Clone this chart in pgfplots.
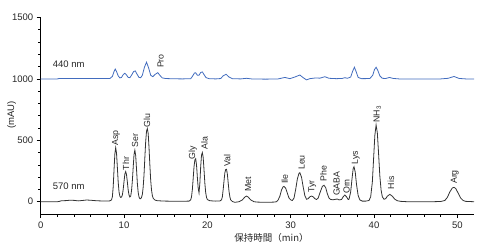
\documentclass[border=0pt]{standalone}
\usepackage{fontspec}
\setmainfont{Liberation Sans}
\newfontfamily\cjk{Noto Sans CJK JP}
\usepackage{pgfplots}
\pgfplotsset{compat=1.18}
\definecolor{trblue}{RGB}{66,108,190}
\definecolor{trdark}{RGB}{50,50,50}
\tikzset{lab/.style={rotate=90, anchor=west, inner sep=0pt, font=\fontsize{8.8}{9}\selectfont, text=black!85}}
\begin{document}
\begin{tikzpicture}
\begin{axis}[
  scale only axis, width=433.3pt, height=196.5pt,
  xmin=0, xmax=52, ymin=-100, ymax=1500,
  axis x line*=bottom, axis y line*=left,
  xtick={0,10,...,50}, ytick={0,500,1000,1500},
  minor x tick num=4, minor y tick num=4,
  tick align=outside, major tick length=4pt, minor tick length=2.5pt,
  tick style={black, line width=0.6pt},
  axis line style={line width=0.6pt},
  ticklabel style={font=\fontsize{9.5}{10}\selectfont, text=black!85},
  /pgf/number format/assume math mode=true,
  /pgf/number format/set thousands separator={},
  clip=false,
]
% 440 nm trace
\addplot[trblue, line width=0.8pt] coordinates {
(0,1000) (2,1000) (2.2,1003) (3,1003) (5,1003) (7,1003) (8.3,1003) (8.6,1020) (8.8,1060) (8.95,1080) (9.1,1060) (9.3,1025) (9.5,1008) (9.7,1012) (9.9,1035) (10.1,1046) (10.3,1032) (10.5,1012) (10.7,1010) (10.9,1030) (11.15,1060) (11.35,1065) (11.55,1040) (11.8,1012) (12.0,1010) (12.2,1030) (12.45,1095) (12.7,1136) (12.95,1090) (13.2,1030) (13.45,1018) (13.7,1035) (14.05,1051) (14.35,1025) (14.6,1008) (15,1003) (16,1001) (17,1000) (18.0,1002) (18.2,1020) (18.45,1048) (18.6,1050) (18.8,1030) (19.0,1030) (19.2,1052) (19.4,1057) (19.6,1035) (19.85,1010) (20.2,1002) (21,1000) (21.6,1003) (21.9,1025) (22.25,1038) (22.6,1015) (23,1002) (24,1000) (24.7,1005) (25.3,1000) (27,998) (28.5,1000) (29.3,1012) (29.9,1002) (30.6,1018) (31.1,1032) (31.5,1010) (31.9,992) (32.3,1002) (33,1008) (33.5,1006) (34.1,1018) (34.6,1005) (35.5,1002) (36.2,1004) (36.5,1010) (36.8,1005) (37.2,1015) (37.45,1065) (37.65,1095) (37.85,1060) (38.1,1012) (38.5,1002) (39.5,1003) (39.85,1030) (40.05,1075) (40.25,1095) (40.45,1070) (40.7,1025) (41.0,1005) (41.4,1003) (41.85,1012) (42.3,1004) (43,1000) (48,1000) (48.9,1005) (49.6,1020) (50.2,1004) (51,1000) (52,1000)
};
% 570 nm trace
\addplot[trdark, line width=0.8pt] coordinates {
(0,0) (1,0) (2,0) (2.2,2) (2.5,8) (3,9) (3.5,12) (4,11) (4.5,7) (5,10) (5.5,14) (6,12) (6.5,9) (7,7) (7.5,6) (8,6) (8.3,7) (8.5,15) (8.6,40) (8.7,120) (8.8,260) (8.9,390) (9.0,440) (9.1,395) (9.2,280) (9.3,160) (9.4,80) (9.5,45) (9.6,35) (9.7,38) (9.8,55) (9.9,100) (10.0,165) (10.1,225) (10.2,245) (10.3,220) (10.4,160) (10.5,95) (10.6,55) (10.7,38) (10.8,45) (10.9,90) (11.0,170) (11.1,280) (11.2,385) (11.3,420) (11.4,375) (11.5,265) (11.6,150) (11.7,75) (11.8,38) (11.9,25) (12.0,25) (12.1,35) (12.2,60) (12.3,120) (12.4,220) (12.5,360) (12.6,490) (12.7,575) (12.8,595) (12.9,555) (13.0,440) (13.1,300) (13.2,175) (13.3,95) (13.4,50) (13.5,28) (13.7,14) (14,8) (15,5) (16,4) (17,4) (17.8,5) (18.0,15) (18.1,40) (18.2,100) (18.3,190) (18.4,285) (18.5,340) (18.6,350) (18.7,300) (18.8,200) (18.9,110) (19.0,72) (19.1,150) (19.2,285) (19.3,380) (19.4,400) (19.5,360) (19.6,260) (19.7,150) (19.8,75) (19.9,35) (20.0,18) (20.3,8) (21,5) (21.5,6) (21.7,15) (21.8,40) (21.9,100) (22.0,170) (22.1,235) (22.2,262) (22.3,264) (22.4,225) (22.5,155) (22.6,85) (22.7,40) (22.8,15) (23.0,2) (23.3,-5) (23.8,0) (24.2,15) (24.5,38) (24.7,46) (24.9,38) (25.2,15) (25.6,0) (26,-3) (27,-5) (28,-3) (28.3,0) (28.5,15) (28.7,45) (28.9,95) (29.1,122) (29.2,125) (29.4,110) (29.6,70) (29.8,30) (30.0,15) (30.2,10) (30.4,30) (30.6,100) (30.8,185) (31.0,232) (31.1,236) (31.3,200) (31.5,120) (31.7,50) (31.9,20) (32.1,25) (32.3,40) (32.5,46) (32.7,40) (32.9,25) (33.1,18) (33.3,30) (33.5,70) (33.8,125) (34.0,134) (34.2,115) (34.4,65) (34.6,30) (34.8,18) (35.1,16) (35.4,20) (35.6,22) (35.8,15) (36.1,18) (36.3,40) (36.5,55) (36.7,40) (36.9,18) (37.0,20) (37.2,80) (37.35,180) (37.5,270) (37.6,285) (37.75,240) (37.9,140) (38.1,50) (38.3,15) (38.6,5) (39,5) (39.4,10) (39.6,40) (39.8,160) (39.95,350) (40.1,540) (40.25,625) (40.4,560) (40.55,390) (40.7,210) (40.85,95) (41.0,40) (41.2,20) (41.4,25) (41.6,45) (41.9,60) (42.2,45) (42.5,20) (42.8,8) (43.2,3) (44,0) (46,0) (47,0) (48,2) (48.5,10) (48.8,35) (49.1,80) (49.4,112) (49.6,117) (49.8,108) (50.1,70) (50.4,30) (50.7,10) (51,3) (52,0)
};
% trace labels
\node[anchor=west, inner sep=0pt, font=\fontsize{9.5}{10}\selectfont, text=black!85] at (axis cs:1.44,1120) {440 nm};
\node[anchor=west, inner sep=0pt, font=\fontsize{9.5}{10}\selectfont, text=black!85] at (axis cs:1.44,125) {570 nm};
% peak labels
\node[lab] at (axis cs:14.4,1088) {Pro};
\node[lab] at (axis cs:9.05,454) {Asp};
\node[lab] at (axis cs:10.24,255) {Thr};
\node[lab] at (axis cs:11.32,440) {Ser};
\node[lab] at (axis cs:12.76,606) {Glu};
\node[lab] at (axis cs:18.25,345) {Gly};
\node[lab] at (axis cs:19.65,421) {Ala};
\node[lab] at (axis cs:22.4,285) {Val};
\node[lab] at (axis cs:24.9,81) {Met};
\node[lab] at (axis cs:29.3,144) {Ile};
\node[lab] at (axis cs:31.3,258) {Leu};
\node[lab] at (axis cs:32.6,73) {Tyr};
\node[lab] at (axis cs:33.95,163) {Phe};
\node[lab] at (axis cs:35.5,46) {GABA};
\node[lab] at (axis cs:36.7,63) {Orn};
\node[lab] at (axis cs:37.8,305) {Lys};
\node[lab] at (axis cs:40.4,644) {NH\textsubscript{3}};
\node[lab] at (axis cs:42.05,101) {His};
\node[lab] at (axis cs:49.7,144) {Arg};
\end{axis}
\node[rotate=90, font=\fontsize{9.5}{10}\selectfont, text=black!85] at (-29pt,99pt) {(mAU)};
\node[font=\cjk\fontsize{9.5}{10}\selectfont, text=black!85] at (230.8pt,-24pt) {保持時間（min）};
\pgfresetboundingbox
\useasboundingbox (-40.7pt,-36pt) rectangle (449.3pt,214pt);
\end{tikzpicture}
\end{document}
